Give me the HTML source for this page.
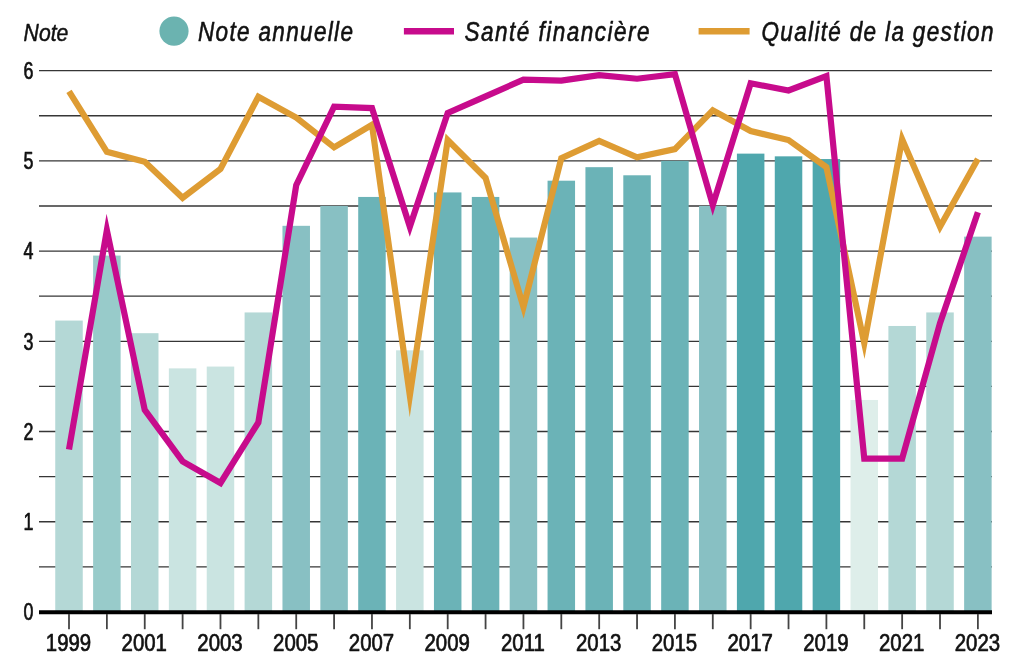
<!DOCTYPE html>
<html lang="fr"><head><meta charset="utf-8"><title>Note annuelle</title>
<style>
html,body{margin:0;padding:0;background:#fff;}
body{width:1016px;height:665px;overflow:hidden;}
svg{display:block;font-family:"Liberation Sans","DejaVu Sans",sans-serif;}
text{stroke:#111;stroke-width:0.45px;stroke-linejoin:round;}
.ax{font-size:23.3px;fill:#111;stroke-width:0.7px;}
.lg{font-size:27px;font-style:italic;fill:#111;stroke-width:0.6px;}
.nt{font-size:24.3px;font-style:italic;fill:#111;stroke-width:0.5px;}
</style></head><body>
<svg width="1016" height="665" viewBox="0 0 1016 665">
<rect width="1016" height="665" fill="#fff"/>

<g stroke="#363636" stroke-width="1.35">
<line x1="39" x2="992" y1="566.88" y2="566.88"/>
<line x1="39" x2="992" y1="521.77" y2="521.77"/>
<line x1="39" x2="992" y1="476.65" y2="476.65"/>
<line x1="39" x2="992" y1="431.54" y2="431.54"/>
<line x1="39" x2="992" y1="386.42" y2="386.42"/>
<line x1="39" x2="992" y1="341.31" y2="341.31"/>
<line x1="39" x2="992" y1="296.19" y2="296.19"/>
<line x1="39" x2="992" y1="251.08" y2="251.08"/>
<line x1="39" x2="992" y1="205.96" y2="205.96"/>
<line x1="39" x2="992" y1="160.85" y2="160.85"/>
<line x1="39" x2="992" y1="115.73" y2="115.73"/>
<line x1="39" x2="992" y1="70.62" y2="70.62"/>
</g>
<g>
<rect x="55.25" y="320.56" width="27.5" height="291.44" fill="#b4d8d6"/>
<rect x="93.12" y="255.59" width="27.5" height="356.41" fill="#98cbca"/>
<rect x="130.99" y="333.19" width="27.5" height="278.81" fill="#b4d8d6"/>
<rect x="168.86" y="368.38" width="27.5" height="243.62" fill="#cae4e1"/>
<rect x="206.73" y="366.57" width="27.5" height="245.43" fill="#cae4e1"/>
<rect x="244.60" y="312.44" width="27.5" height="299.56" fill="#b4d8d6"/>
<rect x="282.47" y="225.82" width="27.5" height="386.18" fill="#88c0c3"/>
<rect x="320.34" y="205.96" width="27.5" height="406.04" fill="#88c0c3"/>
<rect x="358.21" y="196.94" width="27.5" height="415.06" fill="#6bb3b7"/>
<rect x="396.08" y="350.33" width="27.5" height="261.67" fill="#cae4e1"/>
<rect x="433.95" y="192.43" width="27.5" height="419.57" fill="#6bb3b7"/>
<rect x="471.82" y="196.94" width="27.5" height="415.06" fill="#6bb3b7"/>
<rect x="509.69" y="237.55" width="27.5" height="374.45" fill="#88c0c3"/>
<rect x="547.56" y="180.70" width="27.5" height="431.30" fill="#6bb3b7"/>
<rect x="585.43" y="167.17" width="27.5" height="444.83" fill="#6bb3b7"/>
<rect x="623.30" y="175.29" width="27.5" height="436.71" fill="#6bb3b7"/>
<rect x="661.17" y="160.85" width="27.5" height="451.15" fill="#6bb3b7"/>
<rect x="699.04" y="205.96" width="27.5" height="406.04" fill="#88c0c3"/>
<rect x="736.91" y="153.63" width="27.5" height="458.37" fill="#4fa7ad"/>
<rect x="774.78" y="156.34" width="27.5" height="455.66" fill="#4fa7ad"/>
<rect x="812.65" y="159.05" width="27.5" height="452.95" fill="#4fa7ad"/>
<rect x="850.52" y="399.96" width="27.5" height="212.04" fill="#deeeea"/>
<rect x="888.39" y="325.97" width="27.5" height="286.03" fill="#b4d8d6"/>
<rect x="926.26" y="312.44" width="27.5" height="299.56" fill="#b4d8d6"/>
<rect x="964.13" y="236.64" width="27.5" height="375.36" fill="#88c0c3"/>
</g>
<line x1="39" x2="992" y1="612.2" y2="612.2" stroke="#000" stroke-width="4.1"/>
<g stroke="#444" stroke-width="1.8">
<line x1="69.00" x2="69.00" y1="614" y2="629.2"/>
<line x1="106.87" x2="106.87" y1="614" y2="629.2"/>
<line x1="144.74" x2="144.74" y1="614" y2="629.2"/>
<line x1="182.61" x2="182.61" y1="614" y2="629.2"/>
<line x1="220.48" x2="220.48" y1="614" y2="629.2"/>
<line x1="258.35" x2="258.35" y1="614" y2="629.2"/>
<line x1="296.22" x2="296.22" y1="614" y2="629.2"/>
<line x1="334.09" x2="334.09" y1="614" y2="629.2"/>
<line x1="371.96" x2="371.96" y1="614" y2="629.2"/>
<line x1="409.83" x2="409.83" y1="614" y2="629.2"/>
<line x1="447.70" x2="447.70" y1="614" y2="629.2"/>
<line x1="485.57" x2="485.57" y1="614" y2="629.2"/>
<line x1="523.44" x2="523.44" y1="614" y2="629.2"/>
<line x1="561.31" x2="561.31" y1="614" y2="629.2"/>
<line x1="599.18" x2="599.18" y1="614" y2="629.2"/>
<line x1="637.05" x2="637.05" y1="614" y2="629.2"/>
<line x1="674.92" x2="674.92" y1="614" y2="629.2"/>
<line x1="712.79" x2="712.79" y1="614" y2="629.2"/>
<line x1="750.66" x2="750.66" y1="614" y2="629.2"/>
<line x1="788.53" x2="788.53" y1="614" y2="629.2"/>
<line x1="826.40" x2="826.40" y1="614" y2="629.2"/>
<line x1="864.27" x2="864.27" y1="614" y2="629.2"/>
<line x1="902.14" x2="902.14" y1="614" y2="629.2"/>
<line x1="940.01" x2="940.01" y1="614" y2="629.2"/>
<line x1="977.88" x2="977.88" y1="614" y2="629.2"/>
</g>
<polyline points="69.00,91.37 106.87,151.83 144.74,161.75 182.61,197.84 220.48,168.97 258.35,96.79 296.22,117.54 334.09,147.32 371.96,124.76 409.83,395.45 447.70,140.10 485.57,177.99 523.44,307.02 561.31,158.14 599.18,141.00 637.05,157.24 674.92,149.12 712.79,110.32 750.66,131.07 788.53,140.10 826.40,167.17 864.27,343.11 902.14,139.19 940.01,226.72 977.88,159.05" fill="none" stroke="#de9c33" stroke-width="6.2" stroke-linejoin="miter" stroke-miterlimit="10"/>
<polyline points="69.00,449.59 106.87,230.33 144.74,409.88 182.61,461.32 220.48,482.97 258.35,422.52 296.22,185.21 334.09,106.71 371.96,108.07 409.83,226.72 447.70,113.03 485.57,96.34 523.44,79.64 561.31,80.55 599.18,75.13 637.05,78.74 674.92,74.23 712.79,205.06 750.66,83.25 788.53,90.47 826.40,76.03 864.27,458.61 902.14,458.61 940.01,323.26 977.88,212.28" fill="none" stroke="#c70b8c" stroke-width="6.2" stroke-linejoin="miter" stroke-miterlimit="10"/>
<text class="ax" transform="translate(23.5 620.20) scale(0.767 1)">0</text>
<text class="ax" transform="translate(23.5 529.97) scale(0.767 1)">1</text>
<text class="ax" transform="translate(23.5 439.74) scale(0.767 1)">2</text>
<text class="ax" transform="translate(23.5 349.51) scale(0.767 1)">3</text>
<text class="ax" transform="translate(23.5 259.28) scale(0.767 1)">4</text>
<text class="ax" transform="translate(23.5 169.05) scale(0.767 1)">5</text>
<text class="ax" transform="translate(23.5 78.82) scale(0.767 1)">6</text>
<text class="ax" text-anchor="middle" transform="translate(68.50 650.8) scale(0.875 1)">1999</text>
<text class="ax" text-anchor="middle" transform="translate(144.24 650.8) scale(0.875 1)">2001</text>
<text class="ax" text-anchor="middle" transform="translate(219.98 650.8) scale(0.875 1)">2003</text>
<text class="ax" text-anchor="middle" transform="translate(295.72 650.8) scale(0.875 1)">2005</text>
<text class="ax" text-anchor="middle" transform="translate(371.46 650.8) scale(0.875 1)">2007</text>
<text class="ax" text-anchor="middle" transform="translate(447.20 650.8) scale(0.875 1)">2009</text>
<text class="ax" text-anchor="middle" transform="translate(522.94 650.8) scale(0.875 1)">2011</text>
<text class="ax" text-anchor="middle" transform="translate(598.68 650.8) scale(0.875 1)">2013</text>
<text class="ax" text-anchor="middle" transform="translate(674.42 650.8) scale(0.875 1)">2015</text>
<text class="ax" text-anchor="middle" transform="translate(750.16 650.8) scale(0.875 1)">2017</text>
<text class="ax" text-anchor="middle" transform="translate(825.90 650.8) scale(0.875 1)">2019</text>
<text class="ax" text-anchor="middle" transform="translate(901.64 650.8) scale(0.875 1)">2021</text>
<text class="ax" text-anchor="middle" transform="translate(977.38 650.8) scale(0.875 1)">2023</text>
<text class="nt" transform="translate(23.6 40.6) scale(0.872 1)">Note</text>
<circle cx="174" cy="31.1" r="14.6" fill="#6bb3b0"/>
<text class="lg" transform="translate(198 41) scale(0.835 1)" textLength="185.6" lengthAdjust="spacing">Note annuelle</text>
<line x1="403.9" x2="454" y1="31.2" y2="31.2" stroke="#c70b8c" stroke-width="6.5"/>
<text class="lg" transform="translate(464.5 41) scale(0.835 1)" textLength="221.6" lengthAdjust="spacing">Santé financière</text>
<line x1="698.6" x2="749.6" y1="31.2" y2="31.2" stroke="#de9c33" stroke-width="6.5"/>
<text class="lg" transform="translate(761.5 41) scale(0.835 1)" textLength="277.8" lengthAdjust="spacing">Qualité de la gestion</text>
</svg></body></html>
